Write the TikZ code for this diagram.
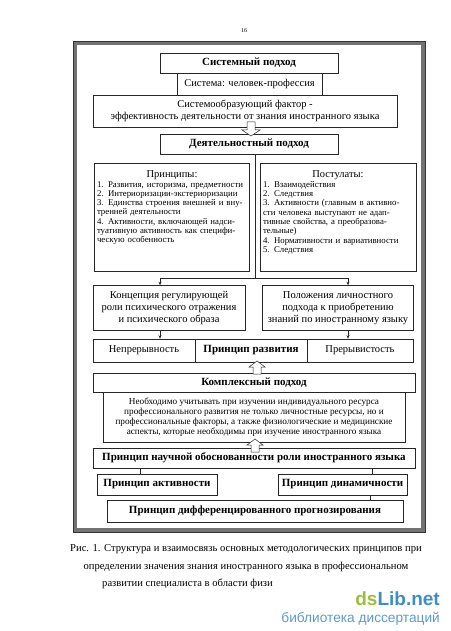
\documentclass[tikz,border=0pt]{standalone}
\usepackage{fontspec}
\setmainfont{Liberation Serif}
\newfontfamily\wmfont{Liberation Sans}
\usetikzlibrary{arrows.meta,shadows,calc}
\definecolor{dsgreen}{HTML}{9DBE3C}
\definecolor{dsblue}{HTML}{3F8DC2}
\definecolor{dsblue2}{HTML}{5C9CCB}
\newcommand\jl[1]{\makebox[\linewidth][s]{#1}}
\begin{document}
\begin{tikzpicture}[x=1pt,y=-1pt,
  box/.style={draw=black!85, line width=0.6pt, fill=white, inner sep=1pt, align=center,
    drop shadow={shadow xshift=0.9pt, shadow yshift=-0.9pt, fill=black!60}},
  title/.style={font=\bfseries\fontsize{11}{12}\selectfont},
  main/.style={font=\fontsize{10.5}{11.8}\selectfont},
  small/.style={font=\fontsize{8.8}{9.3}\selectfont},
  conn/.style={draw=black!85, line width=0.6pt},
  arr/.style={conn, -{Stealth[length=3.5pt,width=3pt]}},
  hollow/.style={draw=black!85, fill=white, line width=0.5pt, line join=miter},
  downarr/.pic={\path[hollow] (-4,-14) -- (4,-14) -- (4,-6) -- (9,-6) -- (0,0) -- (-9,-6) -- (-4,-6) -- cycle;},
  uparr/.pic={\path[hollow] (-4,13) -- (4,13) -- (4,6) -- (8,6) -- (0,0) -- (-8,6) -- (-4,6) -- cycle;}]
\useasboundingbox (0,0) rectangle (450,631);
\fill[white] (0,0) rectangle (450,631);
% page number
\node[font=\fontsize{6}{7}\selectfont] (pnum) at (244,31) {16};
% outer frame
\draw[line width=4pt, black!55] (75,43) rectangle (423,530);
\draw[line width=0.6pt, black!80] (73,41) rectangle (425,532);
% top boxes
\node[box, title, minimum width=178pt, minimum height=20pt] (sys) at (249,63) {Системный подход};
\node[box, main, minimum width=145pt, minimum height=22pt] (sysch) at (249.5,84) {Система: человек-профессия};
\node[box, main, minimum width=304pt, minimum height=32pt] (factor) at (245,111)
  {Системообразующий фактор -\\эффективность деятельности от знания иностранного языка};
\node[box, title, minimum width=178pt, minimum height=20pt] (deyat) at (249,144) {Деятельностный подход};
\pic at (251,136) {downarr};
% principles / postulates
\coordinate (split) at (255,278);
\coordinate (jl) at (160,278);
\coordinate (jr) at (348,278);
\draw[conn] (deyat.south -| split) -- (split);
\node[box, minimum width=155pt, minimum height=108pt] (princ) at (172,217) {};
\node[box, minimum width=156pt, minimum height=108pt] (post) at (338,217) {};
\node[main] (princh) at (172,175) {Принципы:};
\node[main] (posth) at (338,175) {Постулаты:};
\node[small, text width=151pt, anchor=north, align=left, inner sep=0pt] (princtxt) at (172.5,181)
  {\jl{1. Развития, историзма, предметности}\\
   \jl{2. Интериоризации-экстериоризации}\\
   \jl{3. Единства строения внешней и вну-}\\
   тренней деятельности\\
   \jl{4. Активности, включающей надси-}\\
   \jl{туативную активность как специфи-}\\
   ческую особенность};
\node[small, text width=151pt, anchor=north, align=left, inner sep=0pt] (posttxt) at (338.5,181)
  {1. Взаимодействия\\
   2. Следствия\\
   \jl{3. Активности (главным в активно-}\\
   \jl{сти человека выступают не адап-}\\
   \jl{тивные свойства, а преобразова-}\\
   тельные)\\
   \jl{4. Нормативности и вариативности}\\
   5. Следствия};
\draw[conn] (jl) -- (jr);
% second level
\node[box, main, minimum width=152pt, minimum height=45pt] (konc) at (169,308)
  {Концепция регулирующей\\роли психического отражения\\и психического образа};
\node[box, main, minimum width=151pt, minimum height=45pt] (pol) at (338,308)
  {Положения личностного\\подхода к приобретению\\знаний по иностранному языку};
\draw[arr] (jl) -- (jl |- konc.north);
\draw[arr] (jr) -- (jr |- pol.north);
% row
\node[box, main, minimum width=102pt, minimum height=23pt] (nepr) at (144,350.5) {Непрерывность};
\node[box, main, minimum width=106pt, minimum height=23pt] (prer) at (360,350.5) {Прерывистость};
\node[box, title, minimum width=112pt, minimum height=23pt] (razv) at (251,350.5) {Принцип развития};
\draw[arr] (jl |- konc.south) -- (jl |- nepr.north);
\draw[arr] (jr |- pol.south) -- (jr |- prer.north);
% complex approach
\node[box, minimum width=302pt, minimum height=50pt, font=\fontsize{9.2}{10.2}\selectfont] (ktxt) at (254,417)
  {Необходимо учитывать при изучении индивидуального ресурса\\
   профессионального развития не только личностные ресурсы, но и\\
   профессиональные факторы, а также физиологические и медицинские\\
   аспекты, которые необходимы при изучение иностранного языка};
\node[box, title, minimum width=322pt, minimum height=19pt] (kompl) at (254,382.5) {Комплексный подход};
\pic at (257,361) {uparr};
\node[box, title, minimum width=322pt, minimum height=20pt] (nauch) at (254,458) {Принцип научной обоснованности роли иностранного языка};
\pic at (255,439) {uparr};
% bottom principles
\coordinate (cl) at (140,470);
\coordinate (cr) at (372,470);
\coordinate (cr2) at (370,497);
\node[box, title, minimum width=120pt, minimum height=21pt] (aktiv) at (157,484.5) {Принцип активности};
\node[box, title, minimum width=129pt, minimum height=21pt] (dinam) at (342.5,484.5) {Принцип динамичности};
\node[box, title, minimum width=296pt, minimum height=22pt] (diff) at (255,511) {Принцип дифференцированного прогнозирования};
\draw[conn] (nauch.south -| cl) -- (aktiv.north -| cl);
\draw[conn] (nauch.south -| cr) -- (dinam.north -| cr);
\draw[conn] (dinam.south -| cr2) -- (diff.north -| cr2);
% caption
\node[font=\fontsize{10.6}{12}\selectfont] (cap1) at (246,549) {Рис. 1. Структура и взаимосвязь основных методологических принципов при};
\node[font=\fontsize{10.6}{12}\selectfont] (cap2) at (246,567) {определении значения знания иностранного языка в профессиональном};
\node[font=\fontsize{10.6}{12}\selectfont, anchor=west, inner sep=0pt] (cap3) at (102,584) {развитии специалиста в области физи};
% watermark
\node[anchor=base east, inner sep=0pt, font=\wmfont\bfseries\fontsize{19}{20}\selectfont] (wm1) at (440,605)
  {\textcolor{dsgreen}{ds}\textcolor{dsblue}{Lib.net}};
\node[anchor=base east, inner sep=0pt, font=\wmfont\fontsize{13.7}{15}\selectfont, text=dsblue2] (wm2) at (440,622)
  {библиотека диссертаций};
\end{tikzpicture}
\end{document}
